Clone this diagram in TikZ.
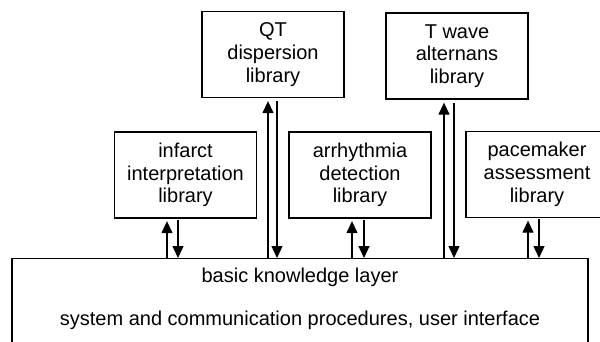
\documentclass[tikz,border=0pt]{standalone}
\usepackage{fontspec}
\setmainfont{Liberation Sans}
\usetikzlibrary{arrows.meta}
\begin{document}
\begin{tikzpicture}[x=1pt,y=-1pt,
  lib/.style={draw,line width=1.3pt,minimum width=142pt,minimum height=86pt,inner sep=0pt,align=center,
    font=\fontsize{20}{22.8}\selectfont},
  txt/.style={inner sep=0pt,font=\fontsize{20}{23}\selectfont},
  arr/.style={line width=1.3pt,-{Triangle[width=11pt,length=12pt]}}]
\clip (0,0) rectangle (600,341);
\node[lib] (qt) at (273,54.5) {QT\\dispersion\\library};
\node[lib] (tw) at (457,56) {T wave\\alternans\\library};
\node[lib] (inf) at (185.5,175) {infarct\\interpretation\\library};
\node[lib] (arh) at (360,175) {arrhythmia\\detection\\library};
\node[lib] (pm) at (537,174.5) {pacemaker\\assessment\\library};
\node[draw,line width=1.3pt,minimum width=576pt,minimum height=200pt,anchor=north] (base) at (300,258) {};
\node[txt] (t1) at (300,277) {basic knowledge layer};
\node[txt] (t2) at (300,320) {system and communication procedures, user interface};
% infarct
\draw[arr] ([xshift=-18.5pt]inf.south |- base.north) -- ([xshift=-18.5pt,yshift=-2.5pt]inf.south);
\draw[arr] ([xshift=-7.5pt,yshift=-1pt]inf.south) -- ([xshift=-7.5pt]inf.south |- base.north);
% QT
\draw[arr] ([xshift=-5pt]qt.south |- base.north) -- ([xshift=-5pt,yshift=-3pt]qt.south);
\draw[arr] ([xshift=4pt,yshift=-3pt]qt.south) -- ([xshift=4pt]qt.south |- base.north);
% arrhythmia
\draw[arr] ([xshift=-8pt]arh.south |- base.north) -- ([xshift=-8pt,yshift=-2.5pt]arh.south);
\draw[arr] ([xshift=4pt,yshift=-1pt]arh.south) -- ([xshift=4pt]arh.south |- base.north);
% T wave
\draw[arr] ([xshift=-13pt]tw.south |- base.north) -- ([xshift=-13pt,yshift=-3pt]tw.south);
\draw[arr] ([xshift=-3pt,yshift=-3pt]tw.south) -- ([xshift=-3pt]tw.south |- base.north);
% pacemaker
\draw[arr] ([xshift=-9pt]pm.south |- base.north) -- ([xshift=-9pt,yshift=-2.5pt]pm.south);
\draw[arr] ([xshift=2pt,yshift=-1pt]pm.south) -- ([xshift=2pt]pm.south |- base.north);
\end{tikzpicture}
\end{document}
